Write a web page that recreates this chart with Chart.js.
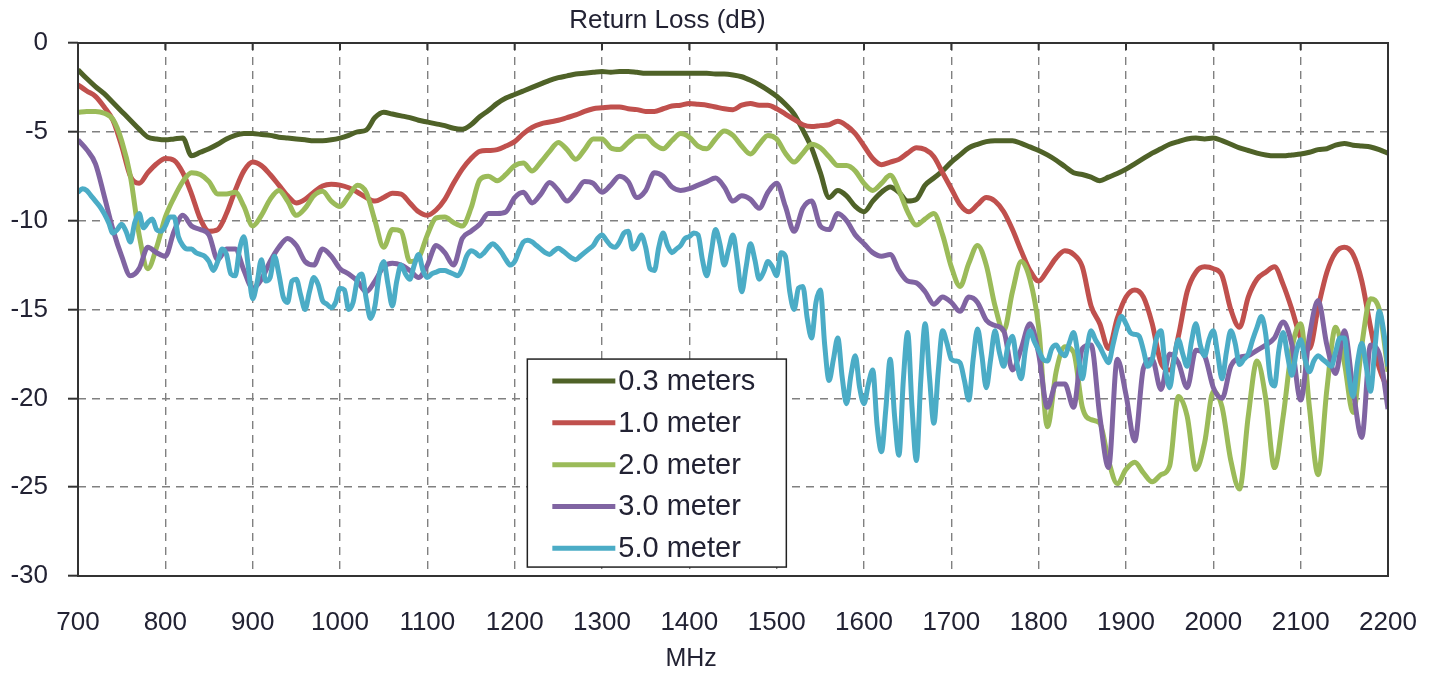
<!DOCTYPE html>
<html>
<head>
<meta charset="utf-8">
<script src="https://cdn.jsdelivr.net/npm/chart.js@4.4.1/dist/chart.umd.min.js"></script>
<style>
  html,body{margin:0;padding:0;background:#fff;}
  #wrap{width:1437px;height:675px;position:relative;}
</style>
</head>
<body>
<div id="wrap"><canvas id="c"></canvas></div>
<script>
const TITLE = 'Return Loss (dB)';
const X_TITLE = 'MHz';
const LABELS = ['0.3 meters', '1.0 meter', '2.0 meter', '3.0 meter', '5.0 meter'];
const COLORS = ['#4f6228', '#c0504d', '#9bbb59', '#8064a2', '#4bacc6'];
const X_TICKS = [700,800,900,1000,1100,1200,1300,1400,1500,1600,1700,1800,1900,2000,2100,2200];
const Y_TICKS = [0,-5,-10,-15,-20,-25,-30];

const freq10 = [
 700,710,720,730,740,750,760,770,780,790,
 800,810,820,830,840,850,860,870,880,890,
 900,910,920,930,940,950,960,970,980,990,
 1000,1010,1020,1030,1040,1050,1060,1070,1080,1090,
 1100,1110,1120,1130,1140,1150,1160,1170,1180,1190,
 1200,1210,1220,1230,1240,1250,1260,1270,1280,1290,
 1300,1310,1320,1330,1340,1350,1360,1370,1380,1390,
 1400,1410,1420,1430,1440,1450,1460,1470,1480,1490,
 1500,1510,1520,1530,1540,1550,1560,1570,1580,1590,
 1600,1610,1620,1630,1640,1650,1660,1670,1680,1690,
 1700,1710,1720,1730,1740,1750,1760,1770,1780,1790,
 1800,1810,1820,1830,1840,1850,1860,1870,1880,1890,
 1900,1910,1920,1930,1940,1950,1960,1970,1980,1990,
 2000,2010,2020,2030,2040,2050,2060,2070,2080,2090,
 2100,2110,2120,2130,2140,2150,2160,2170,2180,2190,
 2200];

const freq5 = [
 700,705,710,715,720,725,730,735,740,745,
 750,755,760,765,770,775,780,785,790,795,
 800,805,810,815,820,825,830,835,840,845,
 850,855,860,865,870,875,880,885,890,895,
 900,905,910,915,920,925,930,935,940,945,
 950,955,960,965,970,975,980,985,990,995,
 1000,1005,1010,1015,1020,1025,1030,1035,1040,1045,
 1050,1055,1060,1065,1070,1075,1080,1085,1090,1095,
 1100,1105,1110,1115,1120,1125,1130,1135,1140,1145,
 1150,1155,1160,1165,1170,1175,1180,1185,1190,1195,
 1200,1205,1210,1215,1220,1225,1230,1235,1240,1245,
 1250,1255,1260,1265,1270,1275,1280,1285,1290,1295,
 1300,1305,1310,1315,1320,1325,1330,1335,1340,1345,
 1350,1355,1360,1365,1370,1375,1380,1385,1390,1395,
 1400,1405,1410,1415,1420,1425,1430,1435,1440,1445,
 1450,1455,1460,1465,1470,1475,1480,1485,1490,1495,
 1500,1505,1510,1515,1520,1525,1530,1535,1540,1545,
 1550,1555,1560,1565,1570,1575,1580,1585,1590,1595,
 1600,1605,1610,1615,1620,1625,1630,1635,1640,1645,
 1650,1655,1660,1665,1670,1675,1680,1685,1690,1695,
 1700,1705,1710,1715,1720,1725,1730,1735,1740,1745,
 1750,1755,1760,1765,1770,1775,1780,1785,1790,1795,
 1800,1805,1810,1815,1820,1825,1830,1835,1840,1845,
 1850,1855,1860,1865,1870,1875,1880,1885,1890,1895,
 1900,1905,1910,1915,1920,1925,1930,1935,1940,1945,
 1950,1955,1960,1965,1970,1975,1980,1985,1990,1995,
 2000,2005,2010,2015,2020,2025,2030,2035,2040,2045,
 2050,2055,2060,2065,2070,2075,2080,2085,2090,2095,
 2100,2105,2110,2115,2120,2125,2130,2135,2140,2145,
 2150,2155,2160,2165,2170,2175,2180,2185,2190,2195,
 2200];

const rl03 = [
 -1.5,-2.0,-2.45,-2.85,-3.35,-3.85,-4.35,-4.85,-5.3,-5.4,
 -5.45,-5.4,-5.35,-6.35,-6.15,-5.95,-5.7,-5.4,-5.2,-5.1,
 -5.1,-5.15,-5.2,-5.3,-5.35,-5.4,-5.45,-5.5,-5.5,-5.45,
 -5.35,-5.2,-5.0,-4.9,-4.2,-3.9,-4.0,-4.1,-4.2,-4.35,
 -4.45,-4.55,-4.65,-4.8,-4.85,-4.6,-4.15,-3.8,-3.4,-3.1,
 -2.9,-2.7,-2.5,-2.3,-2.1,-1.95,-1.85,-1.75,-1.7,-1.65,
 -1.6,-1.65,-1.6,-1.6,-1.65,-1.7,-1.7,-1.7,-1.7,-1.7,
 -1.7,-1.7,-1.7,-1.75,-1.75,-1.8,-1.9,-2.1,-2.35,-2.65,
 -3.0,-3.45,-4.0,-4.9,-5.9,-7.3,-8.7,-8.3,-8.6,-9.2,
 -9.5,-8.9,-8.4,-8.1,-8.4,-8.9,-8.8,-8.0,-7.6,-7.2,
 -6.7,-6.3,-5.9,-5.7,-5.55,-5.5,-5.5,-5.5,-5.65,-5.85,
 -6.05,-6.3,-6.6,-6.95,-7.3,-7.4,-7.55,-7.75,-7.55,-7.35,
 -7.1,-6.8,-6.5,-6.2,-5.95,-5.7,-5.55,-5.4,-5.35,-5.4,
 -5.35,-5.5,-5.7,-5.9,-6.05,-6.2,-6.3,-6.35,-6.35,-6.3,
 -6.25,-6.15,-6.0,-5.95,-5.75,-5.65,-5.75,-5.8,-5.85,-6.0,
 -6.2];

const rl10 = [
 -2.35,-2.7,-3.0,-3.6,-4.35,-5.8,-7.5,-7.9,-7.3,-6.8,
 -6.5,-6.6,-7.3,-8.5,-9.9,-10.6,-10.5,-9.6,-8.3,-7.2,
 -6.7,-6.9,-7.4,-8.0,-8.6,-9.0,-8.8,-8.4,-8.05,-7.95,
 -8.0,-8.15,-8.4,-8.7,-8.9,-8.7,-8.45,-8.5,-9.0,-9.5,
 -9.7,-9.4,-8.8,-7.9,-7.1,-6.5,-6.1,-6.05,-6.0,-5.8,
 -5.55,-5.1,-4.75,-4.55,-4.45,-4.35,-4.2,-4.05,-3.85,-3.7,
 -3.65,-3.6,-3.6,-3.7,-3.75,-3.85,-3.85,-3.7,-3.55,-3.5,
 -3.4,-3.45,-3.5,-3.6,-3.7,-3.75,-3.5,-3.4,-3.5,-3.5,
 -3.7,-4.0,-4.3,-4.6,-4.7,-4.65,-4.6,-4.4,-4.65,-5.1,
 -5.8,-6.5,-6.85,-6.7,-6.55,-6.2,-5.9,-6.0,-6.4,-7.3,
 -8.2,-9.1,-9.5,-9.1,-8.7,-8.9,-9.5,-10.5,-11.7,-12.8,
 -13.4,-12.8,-12.1,-11.7,-11.9,-12.6,-14.8,-15.8,-17.2,-15.5,
 -14.3,-13.9,-14.3,-15.8,-18.0,-18.4,-16.5,-14.0,-12.9,-12.6,
 -12.7,-13.1,-15.0,-16.0,-14.3,-13.3,-12.9,-12.6,-13.6,-15.0,
 -16.6,-17.2,-14.9,-12.9,-11.8,-11.5,-11.9,-13.4,-16.0,-18.3,
 -19.5];

const rl20 = [
 -3.9,-3.85,-3.85,-3.95,-4.3,-5.5,-7.5,-10.8,-12.7,-11.5,
 -9.8,-8.7,-7.8,-7.3,-7.4,-7.8,-8.5,-8.5,-8.4,-9.2,
 -10.3,-9.7,-8.8,-8.3,-8.9,-9.7,-9.3,-8.6,-8.35,-8.9,
 -9.2,-8.6,-8.0,-8.4,-10.0,-11.5,-10.5,-10.6,-12.3,-12.1,
 -10.8,-9.85,-9.8,-10.1,-10.3,-9.3,-7.7,-7.5,-7.75,-7.4,
 -6.9,-6.75,-7.2,-6.7,-6.1,-5.6,-6.0,-6.55,-6.0,-5.4,
 -5.4,-5.9,-6.0,-5.6,-5.25,-5.25,-5.7,-5.95,-5.5,-5.1,
 -5.3,-5.8,-5.95,-5.4,-4.95,-5.2,-5.8,-6.25,-5.7,-5.2,
 -5.4,-6.2,-6.7,-6.2,-5.7,-5.9,-6.4,-6.9,-6.9,-7.2,
 -7.9,-8.3,-7.9,-7.45,-8.3,-9.5,-10.25,-9.9,-9.6,-10.8,
 -12.6,-13.7,-12.4,-11.4,-12.5,-14.8,-16.2,-14.0,-12.3,-13.3,
 -16.0,-21.6,-18.5,-17.1,-17.4,-20.5,-21.2,-21.4,-23.5,-24.8,
 -24.0,-23.6,-24.2,-24.7,-24.3,-23.8,-19.9,-21.0,-24.0,-22.5,
 -19.6,-20.5,-23.5,-25.1,-21.0,-17.9,-20.0,-23.9,-21.0,-17.2,
 -15.8,-20.5,-24.3,-19.5,-16.0,-18.0,-20.8,-17.0,-14.4,-15.0,
 -18.5];

const rl30 = [
 -5.45,-6.0,-6.8,-8.6,-10.5,-12.0,-13.1,-12.7,-11.5,-11.8,
 -12.0,-10.6,-9.7,-10.3,-10.5,-10.8,-12.2,-11.6,-11.6,-12.8,
 -13.8,-13.3,-12.3,-11.5,-11.0,-11.4,-12.3,-12.5,-11.6,-12.0,
 -12.7,-13.0,-13.4,-14.0,-13.4,-12.6,-12.4,-12.5,-12.8,-13.2,
 -12.5,-11.4,-11.8,-12.5,-11.0,-10.6,-10.2,-9.6,-9.6,-9.5,
 -8.7,-8.4,-9.0,-8.5,-7.85,-8.3,-8.9,-8.4,-7.8,-7.9,
 -8.4,-8.0,-7.5,-7.8,-8.7,-8.3,-7.3,-7.5,-8.1,-8.3,
 -8.2,-8.0,-7.8,-7.6,-8.1,-8.9,-8.6,-8.8,-9.3,-8.4,
 -7.9,-9.2,-10.6,-9.3,-8.9,-10.3,-10.5,-9.6,-10.0,-10.8,
 -11.3,-11.8,-12.0,-11.9,-12.8,-13.4,-13.5,-14.0,-14.7,-14.3,
 -14.6,-15.1,-14.3,-14.6,-15.6,-15.9,-16.2,-18.4,-17.2,-15.8,
 -17.5,-20.5,-19.2,-19.2,-20.5,-17.2,-17.0,-21.0,-23.9,-17.8,
 -19.8,-22.4,-18.3,-17.8,-19.5,-17.5,-18.0,-19.4,-17.3,-17.6,
 -19.4,-20.0,-18.2,-17.7,-17.6,-17.3,-17.0,-16.6,-15.7,-17.0,
 -20.1,-16.5,-14.5,-17.0,-18.6,-16.2,-19.5,-22.2,-17.0,-17.5,
 -20.6];

const rl50 = [
 -8.4,-8.2,-8.3,-8.6,-8.9,-9.2,-9.6,-10.1,-10.7,-10.5,
 -10.2,-10.6,-11.2,-10.1,-9.6,-10.4,-10.1,-9.9,-10.5,-10.6,
 -10.3,-9.8,-9.8,-10.9,-11.4,-11.6,-11.6,-11.8,-11.9,-12.0,
 -12.3,-12.8,-12.3,-11.6,-11.9,-13.0,-13.1,-11.6,-10.9,-12.6,
 -14.4,-13.5,-12.2,-13.4,-13.2,-12.0,-13.0,-14.3,-14.6,-13.4,
 -13.3,-14.2,-15.0,-14.0,-13.2,-13.6,-14.5,-14.7,-14.9,-14.6,
 -13.8,-13.9,-15.0,-14.6,-13.3,-13.0,-14.4,-15.5,-14.8,-13.0,
 -12.3,-13.6,-14.8,-13.4,-12.5,-13.0,-13.3,-12.5,-11.9,-12.8,
 -13.2,-13.0,-12.9,-12.8,-12.8,-12.9,-13.0,-13.1,-12.7,-12.0,
 -11.7,-11.8,-12.0,-11.8,-11.5,-11.3,-11.5,-11.8,-12.2,-12.5,
 -12.3,-11.7,-11.2,-11.1,-11.2,-11.4,-11.6,-11.8,-11.9,-11.7,
 -11.55,-11.7,-11.9,-12.1,-12.2,-12.0,-11.8,-11.6,-11.4,-11.0,
 -10.8,-11.1,-11.4,-11.5,-11.2,-10.7,-10.6,-11.6,-11.3,-10.8,
 -11.5,-12.7,-12.8,-11.5,-10.7,-11.4,-11.8,-11.6,-11.4,-11.0,
 -10.9,-10.7,-10.8,-12.2,-13.1,-11.8,-10.5,-11.3,-12.5,-11.6,
 -10.8,-12.3,-14.0,-12.6,-11.3,-12.2,-13.3,-12.9,-12.3,-12.6,
 -13.1,-11.8,-12.0,-14.0,-15.0,-13.8,-13.7,-15.5,-16.6,-14.6,
 -13.9,-17.0,-19.0,-17.8,-16.6,-18.8,-20.3,-18.7,-17.6,-19.4,
 -20.3,-19.2,-18.4,-21.5,-23.0,-20.6,-17.8,-21.0,-23.2,-19.0,
 -16.3,-20.5,-23.5,-19.0,-15.8,-18.8,-21.4,-18.5,-16.2,-16.9,
 -17.8,-17.9,-18.0,-19.0,-20.1,-17.8,-16.1,-17.6,-19.4,-17.8,
 -16.2,-17.4,-18.2,-17.0,-16.5,-18.0,-18.9,-17.2,-16.2,-16.8,
 -17.3,-17.8,-17.9,-17.2,-17.0,-17.4,-17.6,-16.9,-16.3,-17.5,
 -18.9,-17.3,-16.2,-16.7,-17.1,-17.6,-18.0,-17.0,-16.0,-15.4,
 -15.8,-16.3,-16.4,-16.5,-17.3,-18.2,-17.8,-16.6,-16.2,-18.3,
 -19.4,-17.8,-16.7,-17.5,-18.2,-16.8,-15.8,-17.0,-17.6,-16.7,
 -16.2,-17.5,-18.9,-17.4,-16.2,-16.9,-18.1,-17.8,-17.5,-16.7,
 -16.0,-15.4,-16.4,-18.8,-19.3,-17.3,-16.3,-17.6,-18.7,-17.4,
 -16.7,-17.8,-18.5,-17.9,-17.6,-17.8,-18.0,-18.2,-17.4,-16.6,
 -16.6,-18.6,-19.9,-18.0,-16.9,-18.2,-19.6,-17.2,-15.1,-16.2,
 -18.2];

const SERIES = [
  {label: LABELS[0], x: freq10, y: rl03, color: COLORS[0]},
  {label: LABELS[1], x: freq10, y: rl10, color: COLORS[1]},
  {label: LABELS[2], x: freq10, y: rl20, color: COLORS[2]},
  {label: LABELS[3], x: freq10, y: rl30, color: COLORS[3]},
  {label: LABELS[4], x: freq5,  y: rl50, color: COLORS[4]}
];

const FONT = '"Liberation Sans", Arial, Helvetica, sans-serif';
const TEXT_COLOR = '#222233';

const overlay = {
  id: 'overlay',
  afterDraw(chart) {
    const {ctx, chartArea: a, scales} = chart;
    const w = a.right - a.left, h = a.bottom - a.top;
    ctx.save();
    ctx.setLineDash([]);
    // plot frame
    ctx.strokeStyle = '#333333';
    ctx.lineWidth = 2;
    ctx.strokeRect(a.left, a.top, w, h);
    // short tick marks hanging from the top edge (axis crosses at 0 dB)
    X_TICKS.forEach(v => {
      const px = scales.x.getPixelForValue(v);
      ctx.beginPath();
      ctx.moveTo(px, a.top);
      ctx.lineTo(px, a.top + 7);
      ctx.stroke();
    });
    // titles
    ctx.fillStyle = TEXT_COLOR;
    ctx.textAlign = 'center';
    ctx.textBaseline = 'middle';
    ctx.font = '26px ' + FONT;
    ctx.fillText(TITLE, a.left + w * 0.450, 21);
    ctx.font = '25px ' + FONT;
    ctx.fillText(X_TITLE, a.left + w * 0.468, 659);
    // legend box
    const lx = a.left + w * 0.343, ly = a.top + h * 0.593;
    const lw = 259, lh = 208;
    ctx.fillStyle = '#ffffff';
    ctx.fillRect(lx, ly, lw, lh);
    ctx.strokeStyle = '#222222';
    ctx.lineWidth = 1.5;
    ctx.strokeRect(lx, ly, lw, lh);
    ctx.font = '29px ' + FONT;
    ctx.textAlign = 'left';
    SERIES.forEach((s, i) => {
      const yy = ly + 22 + i * 41.8;
      ctx.strokeStyle = s.color;
      ctx.lineWidth = 5;
      ctx.lineCap = 'butt';
      ctx.beginPath();
      ctx.moveTo(lx + 25, yy);
      ctx.lineTo(lx + 88, yy);
      ctx.stroke();
      ctx.fillStyle = TEXT_COLOR;
      ctx.fillText(s.label, lx + 91, yy + 1);
    });
    ctx.restore();
  }
};

new Chart(document.getElementById('c'), {
  type: 'line',
  data: {
    datasets: SERIES.map((s, i) => ({
      label: s.label,
      data: s.x.map((f, j) => ({x: f, y: s.y[j]})),
      borderColor: s.color,
      backgroundColor: s.color,
      borderWidth: 5,
      pointRadius: 0,
      fill: false,
      cubicInterpolationMode: 'monotone',
      order: SERIES.length - 1 - i
    }))
  },
  options: {
    responsive: true,
    maintainAspectRatio: false,
    animation: false,
    layout: {padding: {left: 0, right: 49, top: 43, bottom: 0}},
    plugins: {legend: {display: false}, title: {display: false}, tooltip: {enabled: false}},
    scales: {
      x: {
        type: 'linear', min: 700, max: 2200,
        afterBuildTicks: (s) => { s.ticks = X_TICKS.map(v => ({value: v})); },
        afterFit: (s) => { s.height = 99; s.paddingLeft = 0; s.paddingRight = 0; },
        grid: {color: '#808080', lineWidth: 1.4, drawTicks: false, borderDash: [8, 6]},
        border: {display: false, dash: [8, 6]},
        ticks: {font: {family: FONT, size: 26}, color: TEXT_COLOR, padding: 31, maxRotation: 0, autoSkip: false,
                callback: (v) => String(v)}
      },
      y: {
        min: -30, max: 0,
        afterBuildTicks: (s) => { s.ticks = Y_TICKS.map(v => ({value: v})); },
        afterFit: (s) => { s.width = 78; s.paddingTop = 0; s.paddingBottom = 0; },
        grid: {color: '#808080', lineWidth: 1.4, drawTicks: true, tickLength: 10, tickColor: '#333333', tickWidth: 2, tickBorderDash: [], borderDash: [8, 6]},
        border: {display: false, dash: [8, 6]},
        ticks: {font: {family: FONT, size: 26}, color: TEXT_COLOR, padding: 20, callback: (v) => String(v)}
      }
    }
  },
  plugins: [overlay]
});
</script>
</body>
</html>
